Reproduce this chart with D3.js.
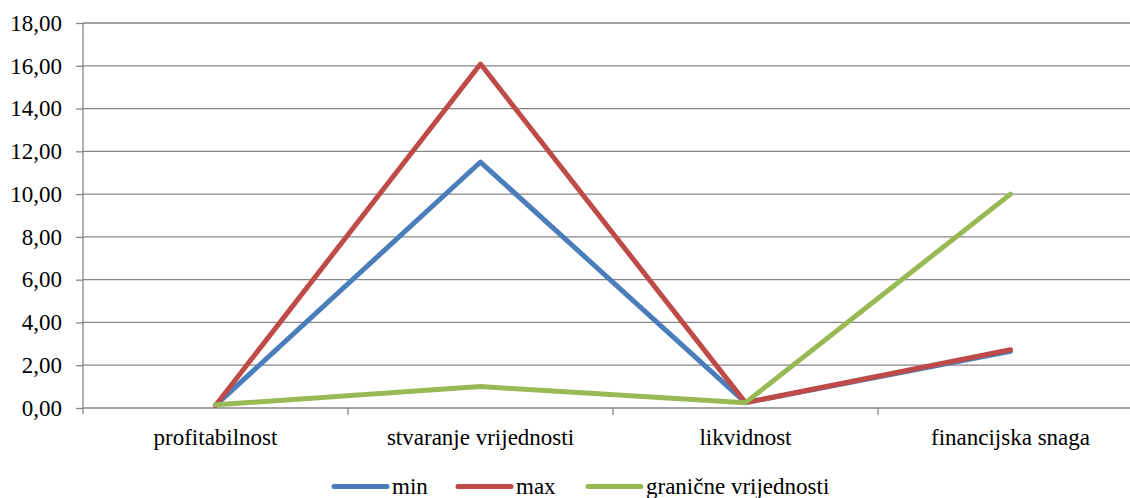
<!DOCTYPE html>
<html><head><meta charset="utf-8">
<script src="https://cdn.jsdelivr.net/npm/d3@7"></script>
</head><body style="margin:0;background:#fff"><svg id="c" width="1130" height="498" style="display:block"></svg>
<script>
const categories = ["profitabilnost","stvaranje vrijednosti","likvidnost","financijska snaga"];
const minValues = [0.12, 11.5, 0.25, 2.65];
const maxValues = [0.12, 16.08, 0.25, 2.72];
const granicneValues = [0.15, 1.0, 0.25, 10.0];
const seriesNames = ["min","max","granične vrijednosti"];
const seriesColors = ["#4A7EBB","#BE4B48","#98B954"];
const yTicks = [0,2,4,6,8,10,12,14,16,18];

(function(){
const svg = d3.select("#c");
const pLeft = 83, pRight = 1143, pTop = 23, pBottom = 408;
const x = d3.scaleBand().domain(categories).range([pLeft,pRight]);
const y = d3.scaleLinear().domain([0,18]).range([pBottom,pTop]);
const fmt = v => d3.format(".2f")(v).replace(".",",");
function serif(sel){
  sel.attr("font-family","Liberation Serif").attr("font-size",23)
     .style("font-family",'"Liberation Serif"').style("font-size","23px").attr("fill","#000");
}

svg.append("g").selectAll("line").data(yTicks.filter(t=>t>0)).join("line")
  .attr("x1",pLeft).attr("x2",pRight).attr("y1",d=>y(d)).attr("y2",d=>y(d))
  .attr("stroke","#868686").attr("stroke-width",1.3);

// axes (lines only; labels drawn as direct svg text children)
const ya = svg.append("g").attr("transform",`translate(${pLeft},0)`)
  .call(d3.axisLeft(y).tickValues(yTicks).tickFormat("").tickSize(7));
ya.select(".domain").attr("stroke","#868686").attr("stroke-width",1.3).attr("d",`M0,${pTop}V${pBottom+6}`);
ya.selectAll(".tick line").attr("stroke","#868686").attr("stroke-width",1.3);
ya.selectAll(".tick text").remove();

const xa = svg.append("g").attr("transform",`translate(0,${pBottom})`)
  .call(d3.axisBottom(x).tickSize(0).tickFormat(""));
xa.select(".domain").attr("stroke","#868686").attr("stroke-width",1.3).attr("d",`M${pLeft},0H${pRight}`);
xa.selectAll(".tick text").remove();
svg.append("g").selectAll("line").data(categories.slice(1)).join("line")
  .attr("x1",d=>x(d)).attr("x2",d=>x(d)).attr("y1",pBottom).attr("y2",pBottom+7)
  .attr("stroke","#868686").attr("stroke-width",1.3);

yTicks.forEach(t=>{
  serif(svg.append("text").attr("x",pLeft-21).attr("y",y(t)).attr("dy","0.34em")
    .attr("text-anchor","end").text(fmt(t)));
});
categories.forEach(c=>{
  serif(svg.append("text").attr("x",x(c)+x.bandwidth()/2).attr("y",pBottom+37)
    .attr("text-anchor","middle").text(c));
});

const series = [minValues,maxValues,granicneValues];
const line = d3.line().x((d,i)=>x(categories[i])+x.bandwidth()/2).y(d=>y(d));
series.forEach((vals,k)=>{
  svg.append("path").datum(vals).attr("d",line).attr("fill","none")
    .attr("stroke",seriesColors[k]).attr("stroke-width",5)
    .attr("stroke-linejoin","round").attr("stroke-linecap","round");
});

const legX = [334,458,588];
seriesNames.forEach((n,k)=>{
  svg.append("line").attr("x1",legX[k]).attr("x2",legX[k]+53).attr("y1",486.5).attr("y2",486.5)
    .attr("stroke",seriesColors[k]).attr("stroke-width",5).attr("stroke-linecap","round");
  serif(svg.append("text").attr("x",legX[k]+58).attr("y",494).text(n));
});
})();
</script></body></html>
